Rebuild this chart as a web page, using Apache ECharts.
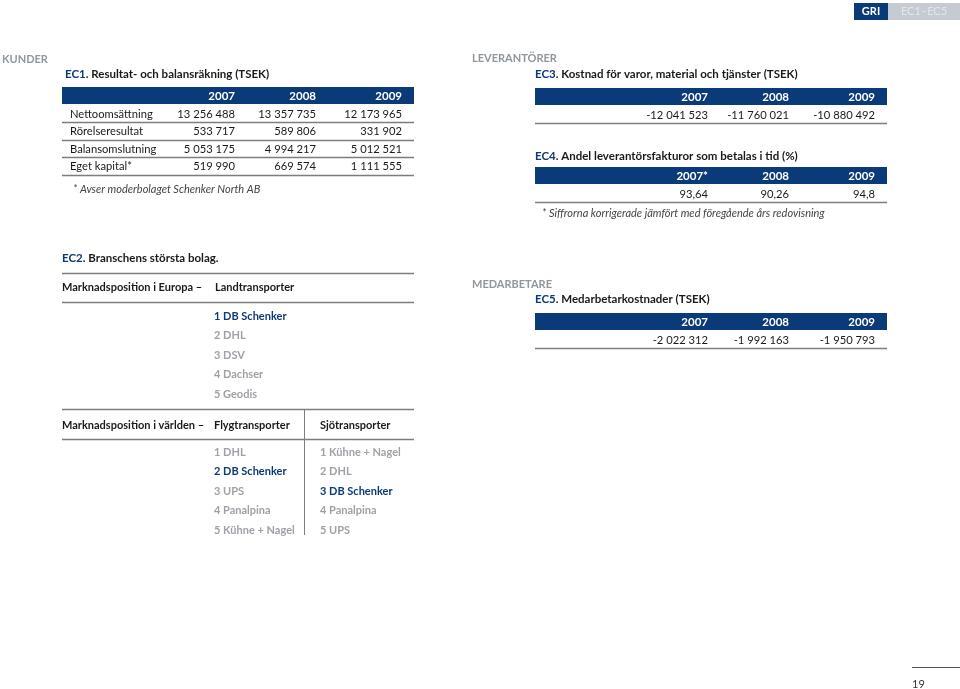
<!DOCTYPE html>
<html><head><meta charset="utf-8">
<script src="https://cdn.jsdelivr.net/npm/echarts@6/dist/echarts.min.js"></script>
<style>html,body{margin:0;padding:0;background:#fff}#c{width:960px;height:689px}</style>
</head><body><div id="c"></div>
<script>
// ---- data ----
const years = ['2007', '2008', '2009'];
const ec1Rows = ['Nettoomsättning', 'Rörelseresultat', 'Balansomslutning', 'Eget kapital*'];
const ec1Net = [13256488, 13357735, 12173965];
const ec1Rorelse = [533717, 589806, 331902];
const ec1Balans = [5053175, 4994217, 5012521];
const ec1Eget = [519990, 669574, 1111555];
const ec3Values = [-12041523, -11760021, -10880492];
const ec4Years = ['2007*', '2008', '2009'];
const ec4Values = ['93,64', '90,26', '94,8'];
const ec5Values = [-2022312, -1992163, -1950793];
const europeLand = ['1 DB Schenker', '2 DHL', '3 DSV', '4 Dachser', '5 Geodis'];
const worldAir = ['1 DHL', '2 DB Schenker', '3 UPS', '4 Panalpina', '5 Kühne + Nagel'];
const worldSea = ['1 Kühne + Nagel', '2 DHL', '3 DB Schenker', '4 Panalpina', '5 UPS'];

// ---- style ----
const NAVY = '#0b3a78', DARK = '#1a1a1a', GREY = '#9ea2a7', SEC = '#8f979e', RULE = '#7d7d7d';
const FF = 'Lato, "Open Sans", sans-serif';
const F = (w, s, i) => (i ? 'italic ' : '') + w + ' ' + s + 'px ' + FF;

function fmt(v) {
  const s = Math.abs(v).toString().replace(/\B(?=(\d{3})+(?!\d))/g, ' ');
  return (v < 0 ? '-' : '') + s;
}
const els = [];
function txt(x, y, text, font, fill, align) {
  els.push({ type: 'text', x: x, y: y, silent: true,
    style: { text: text, font: font, fill: fill, align: align || 'left', verticalAlign: 'middle',
             textAlign: align || 'left', textVerticalAlign: 'middle' } });
}
function rich(x, y, code, rest) {
  els.push({ type: 'text', x: x, y: y, silent: true,
    style: { text: '{a|' + code + '}{b|' + rest + '}', verticalAlign: 'middle', textVerticalAlign: 'middle',
      rich: { a: { font: F('bold', 11.5), fill: NAVY, fontFamily: FF, fontWeight: 'bold', fontSize: 11.5, color: NAVY },
              b: { font: F('bold', 11.5), fill: DARK, fontFamily: FF, fontWeight: 'bold', fontSize: 11.5, color: DARK } } } });
}
function hline(x1, x2, y, c, w) {
  els.push({ type: 'line', silent: true, shape: { x1: x1, y1: y + 0.5, x2: x2, y2: y + 0.5 },
    style: { stroke: c || RULE, lineWidth: w || 1 } });
}
function vline(x, y1, y2) {
  els.push({ type: 'line', silent: true, shape: { x1: x + 0.5, y1: y1, x2: x + 0.5, y2: y2 },
    style: { stroke: RULE, lineWidth: 1 } });
}
function rect(x, y, w, h, c) {
  els.push({ type: 'rect', silent: true, shape: { x: x, y: y, width: w, height: h }, style: { fill: c } });
}
// table: header bar + rows
function table(x0, x1, top, headers, colRight, rows, labelX) {
  rect(x0, top, x1 - x0, 17, NAVY);
  headers.forEach((h, i) => txt(colRight[i], top + 9, h, F('bold', 11.5), '#fff', 'right'));
  const rh = 17.6;
  rows.forEach((r, ri) => {
    const cy = top + 27 + ri * rh;
    if (r.label) txt(labelX, cy, r.label, F('normal', 11.2), DARK, 'left');
    r.vals.forEach((v, i) => txt(colRight[i], cy, typeof v === 'number' ? fmt(v) : v, F('normal', 11.2), DARK, 'right'));
    hline(x0, x1, Math.round(cy + 8), RULE, 1.4);
  });
}

// ---- GRI tab ----
rect(854, 3, 34, 17, NAVY);
txt(871, 11.5, 'GRI', F('bold', 11), '#fff', 'center');
rect(888, 3, 72, 17, '#c6cbd1');
txt(924, 11.5, 'EC1–EC5', F('normal', 11), '#e3e6ea', 'center');

// ---- KUNDER / EC1 ----
txt(2, 59, 'KUNDER', F('bold', 11), SEC);
rich(65, 74, 'EC1', '. Resultat- och balansräkning (TSEK)');
const ec1Data = [ec1Net, ec1Rorelse, ec1Balans, ec1Eget];
table(62, 414, 87, years, [235, 316, 402],
  ec1Rows.map((l, i) => ({ label: l, vals: ec1Data[i] })), 70);
txt(73, 189, '* Avser moderbolaget Schenker North AB', F('normal', 11, true), '#444');

// ---- LEVERANTÖRER / EC3 / EC4 ----
txt(472, 58, 'LEVERANTÖRER', F('bold', 11), SEC);
rich(535, 74, 'EC3', '. Kostnad för varor, material och tjänster (TSEK)');
table(535, 887, 88, years, [708, 789, 875], [{ vals: ec3Values }]);
rich(535, 156, 'EC4', '. Andel leverantörsfakturor som betalas i tid (%)');
table(535, 887, 167, ec4Years, [708, 789, 875], [{ vals: ec4Values }]);
txt(542, 213, '* Siffrorna korrigerade jämfört med föregående års redovisning', F('normal', 11, true), '#444');

// ---- MEDARBETARE / EC5 ----
txt(472, 284, 'MEDARBETARE', F('bold', 11), SEC);
rich(535, 299, 'EC5', '. Medarbetarkostnader (TSEK)');
table(535, 887, 313, years, [708, 789, 875], [{ vals: ec5Values }]);

// ---- EC2 ----
rich(62, 258, 'EC2', '. Branschens största bolag.');
hline(62, 414, 273, RULE, 1.4);
txt(62, 287, 'Marknadsposition i Europa –', F('bold', 11), DARK);
txt(215, 287, 'Landtransporter', F('bold', 11), DARK);
hline(62, 414, 302, RULE, 1.4);
const ih = 19.6;
const col = (list, x, y0) => list.forEach((s, i) =>
  txt(x, y0 + i * ih, s, F('bold', 11), s.indexOf('DB Schenker') >= 0 ? NAVY : GREY));
col(europeLand, 214, 316);
hline(62, 414, 409, RULE, 1.4);
txt(62, 425, 'Marknadsposition i världen –', F('bold', 11), DARK);
txt(214, 425, 'Flygtransporter', F('bold', 11), DARK);
txt(320, 425, 'Sjötransporter', F('bold', 11), DARK);
hline(62, 414, 439, RULE, 1.4);
vline(304, 410, 535);
col(worldAir, 214, 452);
col(worldSea, 320, 452);

// ---- page number ----
hline(912, 960, 667, '#555', 1);
txt(912, 684, '19', F('normal', 11), '#333');

const chart = echarts.init(document.getElementById('c'), null, { renderer: 'canvas' });
chart.setOption({ animation: false, graphic: { elements: els } });
</script></body></html>
